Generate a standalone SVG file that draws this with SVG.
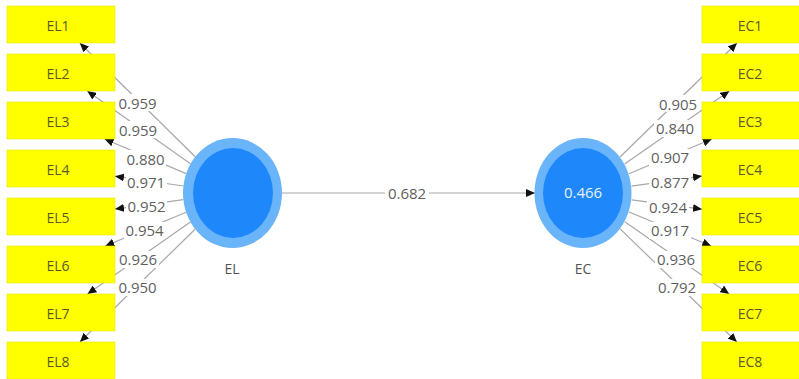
<svg xmlns="http://www.w3.org/2000/svg" width="799" height="379" viewBox="0 0 799 379">
<style>
.box{fill:#FFFF00;stroke:#E8E800;stroke-width:0.6}
.bt{font-family:"Open Sans","Noto Sans",sans-serif;font-size:14px;fill:#5a5a2a;text-anchor:middle;dominant-baseline:central}
.ln{stroke:#A8A8A8;stroke-width:1.2;fill:none}
.lb{font-family:"Open Sans","Noto Sans",sans-serif;font-size:15px;fill:#5f5f5f;text-anchor:middle;dominant-baseline:central}
.bg{fill:#FFFFFF}
.nt{font-family:"Open Sans","Noto Sans",sans-serif;font-size:14px;fill:#555;text-anchor:middle}
</style>
<defs>
<marker id="ah" markerWidth="9" markerHeight="8" refX="9" refY="4" orient="auto" markerUnits="userSpaceOnUse">
<path d="M0,0 L9,4 L0,8 Z" fill="#111"/>
</marker>
</defs>
<rect width="799" height="379" fill="#FFFFFF"/>
<g id="connectors">
<line class="ln" x1="195.2" y1="156.7" x2="79.8" y2="43" marker-end="url(#ah)"/>
<line class="ln" x1="190.5" y1="163.8" x2="87.2" y2="91" marker-end="url(#ah)"/>
<line class="ln" x1="186.2" y1="173.6" x2="104.6" y2="139" marker-end="url(#ah)"/>
<line class="ln" x1="183.4" y1="186" x2="115" y2="176.2" marker-end="url(#ah)"/>
<line class="ln" x1="183.4" y1="199.7" x2="115" y2="209.1" marker-end="url(#ah)"/>
<line class="ln" x1="186.1" y1="212.2" x2="105.3" y2="246" marker-end="url(#ah)"/>
<line class="ln" x1="190.4" y1="222.1" x2="87.5" y2="294" marker-end="url(#ah)"/>
<line class="ln" x1="195.1" y1="229.2" x2="79.9" y2="342" marker-end="url(#ah)"/>
<line class="ln" x1="620" y1="157" x2="737" y2="43" marker-end="url(#ah)"/>
<line class="ln" x1="624.6" y1="164" x2="729.4" y2="91" marker-end="url(#ah)"/>
<line class="ln" x1="628.9" y1="173.8" x2="711.9" y2="139" marker-end="url(#ah)"/>
<line class="ln" x1="631.6" y1="186.1" x2="702" y2="176.1" marker-end="url(#ah)"/>
<line class="ln" x1="631.6" y1="199.9" x2="702" y2="209.2" marker-end="url(#ah)"/>
<line class="ln" x1="629" y1="212" x2="711.2" y2="246" marker-end="url(#ah)"/>
<line class="ln" x1="624.7" y1="221.8" x2="729.2" y2="294" marker-end="url(#ah)"/>
<line class="ln" x1="620.1" y1="228.9" x2="736.9" y2="342" marker-end="url(#ah)"/>
<line class="ln" x1="282" y1="193" x2="535" y2="193" marker-end="url(#ah)"/>
<rect class="bg" x="117" y="94" width="41" height="17"/><text class="lb" x="137.5" y="102.5">0.959</text>
<rect class="bg" x="118" y="121" width="41" height="17"/><text class="lb" x="138" y="129.5">0.959</text>
<rect class="bg" x="125" y="150" width="41" height="17"/><text class="lb" x="145.5" y="158.5">0.880</text>
<rect class="bg" x="126" y="174" width="41" height="16"/><text class="lb" x="146" y="182">0.971</text>
<rect class="bg" x="126" y="198" width="41" height="16"/><text class="lb" x="146.5" y="206">0.952</text>
<rect class="bg" x="124" y="222" width="41" height="17"/><text class="lb" x="144.5" y="230">0.954</text>
<rect class="bg" x="118" y="251" width="41" height="17"/><text class="lb" x="138" y="259">0.926</text>
<rect class="bg" x="117" y="279" width="41" height="17"/><text class="lb" x="137.5" y="287">0.950</text>
<rect class="bg" x="657" y="95" width="42" height="17"/><text class="lb" x="678" y="103.5">0.905</text>
<rect class="bg" x="654" y="120" width="42" height="17"/><text class="lb" x="675" y="128">0.840</text>
<rect class="bg" x="649" y="149" width="42" height="17"/><text class="lb" x="670" y="157">0.907</text>
<rect class="bg" x="649" y="174" width="42" height="16"/><text class="lb" x="670" y="182">0.877</text>
<rect class="bg" x="647" y="199" width="42" height="16"/><text class="lb" x="668" y="207">0.924</text>
<rect class="bg" x="649" y="222" width="42" height="17"/><text class="lb" x="670" y="230">0.917</text>
<rect class="bg" x="655" y="251" width="42" height="17"/><text class="lb" x="676" y="259">0.936</text>
<rect class="bg" x="656" y="279" width="42" height="17"/><text class="lb" x="677" y="287">0.792</text>
<rect class="bg" x="385" y="185" width="44" height="17"/><text class="lb" x="407" y="193">0.682</text>
</g>
<g id="EL">
<ellipse cx="232.5" cy="193" rx="49.5" ry="55" fill="#6AB4FA"/>
<ellipse cx="233" cy="193" rx="40" ry="45" fill="#1E88FA"/>
<text class="nt" x="232" y="274">EL</text>
</g>
<g id="EC">
<ellipse cx="583" cy="193" rx="48.5" ry="55" fill="#6AB4FA"/>
<ellipse cx="583" cy="193" rx="40" ry="45" fill="#1E88FA"/>
<text class="lb" x="583" y="192" style="fill:#E8F0FF">0.466</text>
<text class="nt" x="583" y="274">EC</text>
</g>
<g id="EL1"><rect class="box" x="7" y="6" width="108" height="37"/><text class="bt" x="58" y="25">EL1</text></g>
<g id="EL2"><rect class="box" x="7" y="54" width="108" height="37"/><text class="bt" x="58" y="73">EL2</text></g>
<g id="EL3"><rect class="box" x="7" y="102" width="108" height="37"/><text class="bt" x="58" y="121">EL3</text></g>
<g id="EL4"><rect class="box" x="7" y="150" width="108" height="37"/><text class="bt" x="58" y="169">EL4</text></g>
<g id="EL5"><rect class="box" x="7" y="198" width="108" height="37"/><text class="bt" x="58" y="217">EL5</text></g>
<g id="EL6"><rect class="box" x="7" y="246" width="108" height="37"/><text class="bt" x="58" y="265">EL6</text></g>
<g id="EL7"><rect class="box" x="7" y="294" width="108" height="37"/><text class="bt" x="58" y="313">EL7</text></g>
<g id="EL8"><rect class="box" x="7" y="342" width="108" height="37"/><text class="bt" x="58" y="361">EL8</text></g>
<g id="EC1"><rect class="box" x="702" y="6" width="108" height="37"/><text class="bt" x="750" y="25">EC1</text></g>
<g id="EC2"><rect class="box" x="702" y="54" width="108" height="37"/><text class="bt" x="750" y="73">EC2</text></g>
<g id="EC3"><rect class="box" x="702" y="102" width="108" height="37"/><text class="bt" x="750" y="121">EC3</text></g>
<g id="EC4"><rect class="box" x="702" y="150" width="108" height="37"/><text class="bt" x="750" y="169">EC4</text></g>
<g id="EC5"><rect class="box" x="702" y="198" width="108" height="37"/><text class="bt" x="750" y="217">EC5</text></g>
<g id="EC6"><rect class="box" x="702" y="246" width="108" height="37"/><text class="bt" x="750" y="265">EC6</text></g>
<g id="EC7"><rect class="box" x="702" y="294" width="108" height="37"/><text class="bt" x="750" y="313">EC7</text></g>
<g id="EC8"><rect class="box" x="702" y="342" width="108" height="37"/><text class="bt" x="750" y="361">EC8</text></g>
</svg>
